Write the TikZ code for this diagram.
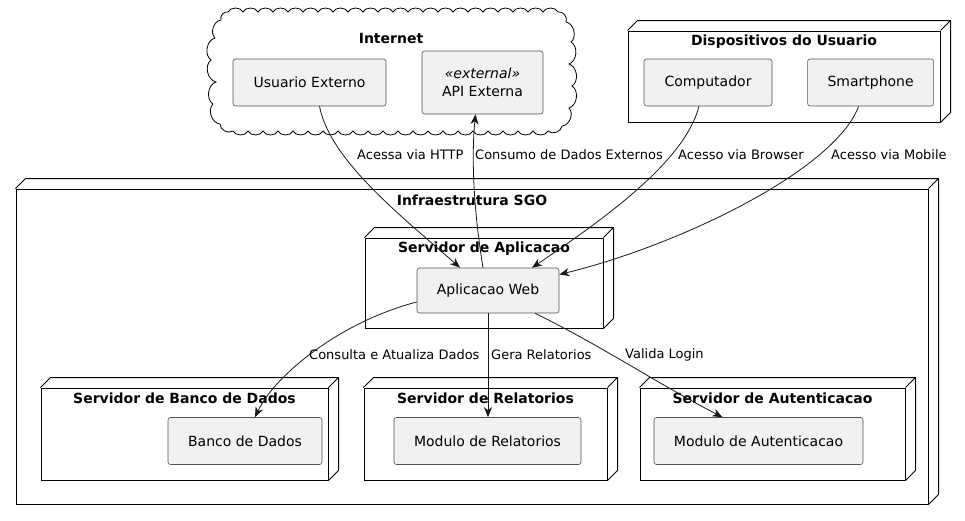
\documentclass[tikz,border=0pt]{standalone}
\usepackage{fontspec}
\setmainfont{DejaVu Sans}
\usepackage{tikz}
\usetikzlibrary{shapes,arrows.meta}
\usetikzlibrary{positioning}

\definecolor{compfill}{HTML}{F1F1F1}
\definecolor{edgegray}{HTML}{181818}

\tikzstyle{node3d} = [rectangle, draw=black, line width=1pt,
    append after command={\pgfextra{\draw[line width=1pt, black]
      (\tikzlastnode.north west) -- ++(10pt,10pt)
      -- ([shift={(10pt,10pt)}]\tikzlastnode.north east)
      -- ([shift={(10pt,10pt)}]\tikzlastnode.south east)
      -- (\tikzlastnode.south east)
      (\tikzlastnode.north east) -- ++(10pt,10pt);}}]
\tikzstyle{component} = [rectangle, draw=edgegray!75, line width=0.6pt,
    fill=compfill, rounded corners=2.5pt, minimum height=47pt,
    align=center, font=\fontsize{14}{18}\selectfont,
    append after command={\pgfextra{
      \draw[line width=0.5pt, edgegray!80, fill=compfill]
        ([shift={(-22pt,-6pt)}]\tikzlastnode.north east) rectangle ++(16pt,-7pt);
      \draw[line width=0.5pt, edgegray!80, fill=compfill]
        ([shift={(-24pt,-7.5pt)}]\tikzlastnode.north east) rectangle ++(5pt,-2pt);
      \draw[line width=0.5pt, edgegray!80, fill=compfill]
        ([shift={(-24pt,-10.5pt)}]\tikzlastnode.north east) rectangle ++(5pt,-2pt);}}]
\tikzstyle{srvtitle} = [font=\bfseries\fontsize{14}{16}\selectfont,
    anchor=base, inner sep=0pt]
\tikzstyle{lbl} = [font=\fontsize{13}{15}\selectfont, inner sep=0pt, anchor=west]
\tikzstyle{arrowline} = [draw, edgegray, line width=0.8pt,
    -{Stealth[length=10pt, width=8pt, inset=3pt]}]
\tikzstyle{cloudline} = [draw, line width=0.8pt]

\begin{document}
\begin{tikzpicture}[x=1pt, y=-1pt]
  \useasboundingbox (0,0) rectangle (965,520);

  % Place containers
  \node [node3d, minimum width=912pt, minimum height=315pt,
         label={[srvtitle, yshift=-17pt]north:Infraestrutura SGO}] (infra) at (472,346.5) {};
  \node [node3d, minimum width=238pt, minimum height=90pt,
         label={[srvtitle, yshift=-15pt]north:Servidor de Aplicacao}] (srvapp) at (484,283) {};
  \node [node3d, minimum width=287pt, minimum height=92pt,
         label={[srvtitle, yshift=-16pt]north:Servidor de Banco de Dados}] (srvdb) at (184.5,434) {};
  \node [node3d, minimum width=243pt, minimum height=92pt, right=35pt of srvdb,
         label={[srvtitle, yshift=-16pt]north:Servidor de Relatorios}] (srvrel) {};
  \node [node3d, minimum width=265pt, minimum height=92pt, right=32pt of srvrel,
         label={[srvtitle, yshift=-16pt]north:Servidor de Autenticacao}] (srvauth) {};
  \node [node3d, minimum width=312pt, minimum height=91pt,
         label={[srvtitle, yshift=-15pt]north:Dispositivos do Usuario}] (disp) at (784,76.5) {};

  % Internet cloud
  \node [minimum width=354pt, minimum height=119pt,
         label={[srvtitle, yshift=-32pt]north:Internet}] (internet) at (391,71.5) {};
  \path [cloudline] (228,12)
    \foreach \x in {243,258,...,558} { to[bend left=65] (\x,12) }
    to[bend left=65] (566,22) to[bend left=65] (571,42) to[bend left=65] (569,64)
    to[bend left=65] (572,86) to[bend left=65] (569,108) to[bend left=65] (562,126)
    \foreach \x in {548,533,...,233} { to[bend left=65] (\x,131) }
    to[bend left=65] (220,124) to[bend left=65] (213,104) to[bend left=65] (216,82)
    to[bend left=65] (211,60) to[bend left=65] (215,38) to[bend left=65] (221,20)
    to[bend left=65] (228,12);

  % Place components
  \node [component, minimum width=153pt] (ue) at (309.5,82.5) {Usuario Externo};
  \node [component, minimum width=121pt, minimum height=63pt] (api) at (482.5,82.5)
        {{\itshape «external»}\\API Externa};
  \node [component, minimum width=128pt] (pc) at (708,82.5) {Computador};
  \node [component, minimum width=126pt, right=35pt of pc] (smart) {Smartphone};
  \node [component, minimum width=142pt, minimum height=45pt] (web) at (488,290.5) {Aplicacao Web};
  \node [component, minimum width=154pt] (db) at (245,441) {Banco de Dados};
  \node [component, minimum width=187pt] (rel) at (487.5,441) {Modulo de Relatorios};
  \node [component, minimum width=209pt] (auth) at (758.5,441) {Modulo de Autenticacao};

  % Connections
  \path [arrowline] ([xshift=10pt]ue.south) .. controls (330,160) and (400,215) .. ([xshift=-28pt]web.north);
  \path [arrowline] ([xshift=-5pt]web.north) .. controls (472,200) and (472,150) .. ([xshift=-7pt]api.south);
  \path [arrowline] ([xshift=-9pt]pc.south) .. controls (685,160) and (610,215) .. ([xshift=44pt]web.north);
  \path [arrowline] ([xshift=-12pt]smart.south) .. controls (835,170) and (680,245) .. ([yshift=16pt]web.east);
  \path [arrowline] ([yshift=-11.5pt]web.west) .. controls (340,322) and (275,375) .. ([xshift=10pt]db.north);
  \path [arrowline] (web.south) -- (web.south |- rel.north);
  \path [arrowline] ([xshift=47pt]web.south) .. controls (600,345) and (660,385) .. ([xshift=-36pt]auth.north);

  % Edge labels
  \node [lbl] (httplbl) at (357,154.5) {Acessa via HTTP};
  \node [lbl] (apilbl) at (475,154.5) {Consumo de Dados Externos};
  \node [lbl] (browserlbl) at (678,154.5) {Acesso via Browser};
  \node [lbl] (mobilelbl) at (831,154.5) {Acesso via Mobile};
  \node [lbl] (dblbl) at (309,354.5) {Consulta e Atualiza Dados};
  \node [lbl] (rellbl) at (491,354.5) {Gera Relatorios};
  \node [lbl] (authlbl) at (625,354.5) {Valida Login};
\end{tikzpicture}
\end{document}
